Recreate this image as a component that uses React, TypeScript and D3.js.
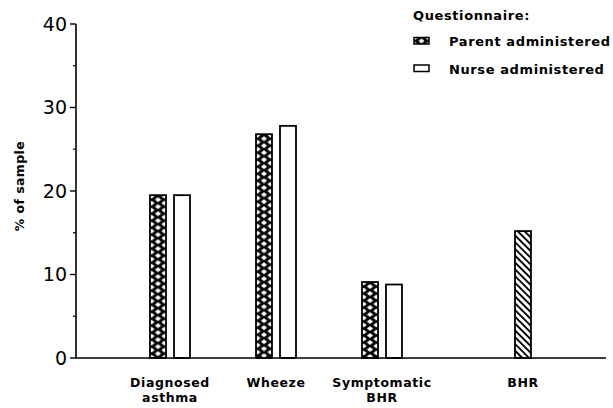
import React from "react";
import { scaleLinear } from "d3";

// data
const categories = ["Diagnosed asthma", "Wheeze", "Symptomatic BHR", "BHR"];
const categoryLines = [["Diagnosed", "asthma"], ["Wheeze"], ["Symptomatic", "BHR"], ["BHR"]];
const parentValues = [19.5, 26.8, 9.1, null];
const nurseValues = [19.5, 27.8, 8.8, null];
const bhrValues = [null, null, null, 15.2];
const yTicks = [0, 10, 20, 30, 40];
const yMinorTicks = [5, 15, 25, 35];

// layout
const W = 613;
const H = 408;
const axisLeftX = 76;
const axisRightX = 606;
const plotTop = 24;
const plotBottom = 358;
const slots = [0, 1, 2, 3.33]; // horizontal slot of each category (BHR sits apart)
const barW = 16;
const pairOffset = 12;
const font = "'DejaVu Sans', sans-serif";
const tileW = 13;
const tileH = 7;

// diamond lattice: black ground, white diamonds at centre and corners
const diamond = (cx: number, cy: number) =>
  `M${cx - 3.1},${cy} L${cx},${cy - 2.5} L${cx + 3.1},${cy} L${cx},${cy + 2.5} Z`;

const CrossPattern: React.FC<{ id: string; x0: number; y0: number }> = ({ id, x0, y0 }) => (
  <pattern id={id} patternUnits="userSpaceOnUse" x={x0} y={y0} width={tileW} height={tileH}>
    <rect width={tileW} height={tileH} fill="#000" />
    <path
      d={[
        diamond(tileW / 2, tileH / 2),
        diamond(0, 0),
        diamond(tileW, 0),
        diamond(0, tileH),
        diamond(tileW, tileH),
      ].join(" ")}
      fill="#fff"
    />
  </pattern>
);

const App: React.FC = () => {
  const y = scaleLinear().domain([0, 40]).range([plotBottom, plotTop]);
  const x = scaleLinear().domain([0, 1]).range([170, 276]);

  const bar = (cx: number, v: number | null, fill: string, key: string) =>
    v == null ? null : (
      <rect
        key={key}
        x={cx - barW / 2}
        y={y(v)}
        width={barW}
        height={y(0) - y(v)}
        fill={fill}
        stroke="#000"
        strokeWidth={1.8}
      />
    );

  return (
    <svg
      width={W}
      height={H}
      style={{ position: "absolute", left: 0, top: 0, background: "#fff" }}
    >
      <defs>
        {categories.map((c, i) => {
          const cx = x(slots[i]) - pairOffset;
          const v = parentValues[i];
          return v == null ? null : (
            <CrossPattern key={c} id={`cross-${i}`} x0={cx - tileW / 2} y0={y(v) + 1} />
          );
        })}
        <CrossPattern id="cross-legend" x0={421.5 - tileW / 2} y0={37.5} />
        <pattern
          id="hatch"
          patternUnits="userSpaceOnUse"
          width={4.8}
          height={10}
          patternTransform="rotate(-45)"
        >
          <rect width={4.8} height={10} fill="#fff" />
          <line x1={1} y1={0} x2={1} y2={10} stroke="#000" strokeWidth={1.9} />
        </pattern>
      </defs>

      {/* bars */}
      {categories.map((c, i) => {
        const cx = x(slots[i]);
        return (
          <g key={c}>
            {bar(cx - pairOffset, parentValues[i], `url(#cross-${i})`, "p")}
            {bar(cx + pairOffset, nurseValues[i], "#fff", "n")}
            {bar(cx, bhrValues[i], "url(#hatch)", "b")}
          </g>
        );
      })}

      {/* axes */}
      <line x1={axisLeftX} x2={axisLeftX} y1={plotTop} y2={plotBottom} stroke="#000" strokeWidth={1.6} />
      <line x1={axisLeftX - 1} x2={axisRightX} y1={plotBottom} y2={plotBottom} stroke="#000" strokeWidth={1.6} />
      {yTicks.map((t) => (
        <g key={t}>
          <line x1={axisLeftX - 6} x2={axisLeftX} y1={y(t)} y2={y(t)} stroke="#000" strokeWidth={1.4} />
          <text
            x={axisLeftX - 9}
            y={y(t)}
            dy="0.36em"
            textAnchor="end"
            fontFamily={font}
            fontSize={19}
            fill="#000"
          >
            {t}
          </text>
        </g>
      ))}
      {yMinorTicks.map((t) => (
        <line key={t} x1={axisLeftX - 3} x2={axisLeftX} y1={y(t)} y2={y(t)} stroke="#000" strokeWidth={1.2} />
      ))}

      {/* y axis title */}
      <text
        transform={`translate(24, 186) rotate(-90)`}
        textAnchor="middle"
        fontFamily={font}
        fontWeight="bold"
        fontSize={12.5}
        letterSpacing={0.4}
        fill="#000"
      >
        % of sample
      </text>

      {/* category labels */}
      {categoryLines.map((lines, i) => (
        <text
          key={i}
          x={x(slots[i])}
          y={387}
          textAnchor="middle"
          fontFamily={font}
          fontWeight="bold"
          fontSize={12.5}
          letterSpacing={0.6}
          fill="#000"
        >
          {lines.map((l, j) => (
            <tspan key={j} x={x(slots[i])} dy={j === 0 ? 0 : 15}>
              {l}
            </tspan>
          ))}
        </text>
      ))}

      {/* legend */}
      <g fontFamily={font} fontWeight="bold" fontSize={13} letterSpacing={0.6} fill="#000">
        <text x={413} y={20}>Questionnaire:</text>
        <rect x={414} y={37.5} width={15} height={6.5} fill="url(#cross-legend)" stroke="#000" strokeWidth={1.5} />
        <text x={449} y={46}>Parent administered</text>
        <rect x={414} y={65} width={15} height={6.5} fill="#fff" stroke="#000" strokeWidth={1.5} />
        <text x={449} y={73.5}>Nurse administered</text>
      </g>
    </svg>
  );
};

export default App;
